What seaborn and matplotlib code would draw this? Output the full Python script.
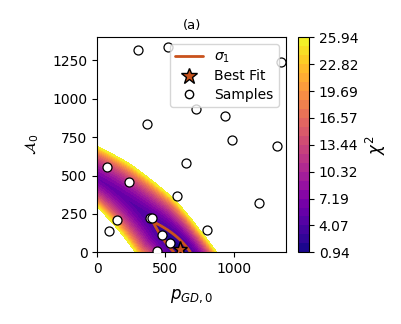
import numpy as np
import matplotlib
matplotlib.use("Agg")
import matplotlib.pyplot as plt
import seaborn as sns

# --- values ---
chi2_min = 0.94
chi2_max = 25.94
cbar_tick_labels = ["0.94", "4.07", "7.19", "10.32", "13.44",
                    "16.57", "19.69", "22.82", "25.94"]

best_fit_p = 608.0
best_fit_a = 20.0

# bottom of the chi^2 valley: A0 = c0 + c1*p + c2*p^2
valley_coef = [480.0, -0.55, -3.4e-4]
delta_sigma1 = 2.30
# rise of chi^2 along the valley (distance from the best fit)
along_amp = 5.93
along_scale = 334.0
# distance across the valley where chi^2 rises by delta_sigma1,
# upper-right side and lower-left side, at given distances along the valley
upper_s = [-200, 0, 246, 617, 855]
upper_w = [42, 44, 51, 51, 47]
lower_s = [0, 214, 670]
lower_w = [44, 57, 40.5]
# shape of the rise across the valley: a*r^1.2 + b*r^4
cross_a = 2.267
cross_b = 0.033

sample_p = [301, 520, 1351, 721, 939, 363, 988, 1321, 69, 650, 235,
            586, 1189, 387, 400, 143, 88, 804, 478, 535, 437]
sample_a = [1317, 1335, 1241, 933, 887, 835, 731, 690, 557, 583, 460,
            369, 323, 225, 221, 210, 139, 147, 115, 59, 8]

x_max = 1385
y_max = 1400
line_color = "#c9521c"

sns.set_style("ticks", {"axes.edgecolor": "black", "xtick.color": "black",
                        "ytick.color": "black", "text.color": "black",
                        "axes.labelcolor": "black"})
plt.rcParams["font.family"] = ["DejaVu Sans"]


def valley(p):
    return valley_coef[0] + valley_coef[1] * p + valley_coef[2] * p ** 2


# --- chi^2 surface on a grid ---
gx = np.linspace(0, x_max, 320)
gy = np.linspace(0, y_max, 320)
pp, aa = np.meshgrid(gx, gy)

cx = np.linspace(-200, 1200, 700)
cy = valley(cx)
arc = np.concatenate([[0], np.cumsum(np.hypot(np.diff(cx), np.diff(cy)))])
arc = np.interp(best_fit_p, cx, arc) - arc      # >0 towards the upper left

dist = np.empty_like(pp)
along = np.empty_like(pp)
for i in range(len(gy)):
    d = np.hypot(pp[i][:, None] - cx[None, :], aa[i][:, None] - cy[None, :])
    k = d.argmin(axis=1)
    dist[i] = d[np.arange(len(gx)), k]
    along[i] = arc[k]

side_up = aa > valley(pp)
w = np.where(side_up, np.interp(along, upper_s, upper_w),
             np.interp(along, lower_s, lower_w))
r = dist / w
chi2 = (chi2_min
        + along_amp * along ** 2 / (along ** 2 + along_scale ** 2)
        + cross_a * r ** 1.2 + cross_b * r ** 4)

levels = np.linspace(chi2_min, chi2_max, 25)

fig = plt.figure(figsize=(4.01, 3.24), dpi=100)
ax = fig.add_axes([0.2426, 0.2213, 0.4705, 0.6635])
cax = fig.add_axes([0.7431, 0.2213, 0.0274, 0.6635])

cf = ax.contourf(pp, aa, chi2, levels=levels, cmap="plasma")
ax.contour(pp, aa, chi2, levels=[chi2_min + delta_sigma1], colors=[line_color],
           linewidths=2, zorder=3)

sns.scatterplot(x=sample_p, y=sample_a, ax=ax, color="white", edgecolor="black",
                linewidth=0.9, s=42, zorder=4)
ax.plot([best_fit_p], [best_fit_a], marker="*", color=line_color,
        markeredgecolor="black", markersize=11, linestyle="none", zorder=5)

# legend handles
ax.plot([], [], color=line_color, lw=2, label=r"$\sigma_1$")
ax.plot([], [], marker="*", color=line_color, markeredgecolor="black",
        markersize=12, linestyle="none", label="Best Fit")
ax.plot([], [], marker="o", color="white", markeredgecolor="black",
        markersize=6, linestyle="none", label="Samples")
ax.legend(loc="upper right", fontsize=10, framealpha=0.8, labelspacing=0.3)

ax.set_xlim(0, x_max)
ax.set_ylim(0, y_max)
ax.set_xticks([0, 500, 1000])
ax.set_yticks([0, 250, 500, 750, 1000, 1250])
ax.tick_params(labelsize=10)
ax.set_xlabel(r"$p_{GD,0}$", fontsize=12, labelpad=8)
ax.set_ylabel(r"$\mathcal{A}_0$", fontsize=11, labelpad=8)
ax.set_title("(a)", fontsize=9.5, pad=6)

cb = fig.colorbar(cf, cax=cax, ticks=levels[::3])
cb.ax.set_yticklabels(cbar_tick_labels)
cb.ax.tick_params(labelsize=10)
cb.set_label(r"$\chi^2$", fontsize=12)

fig.savefig("out.png", dpi=100)
